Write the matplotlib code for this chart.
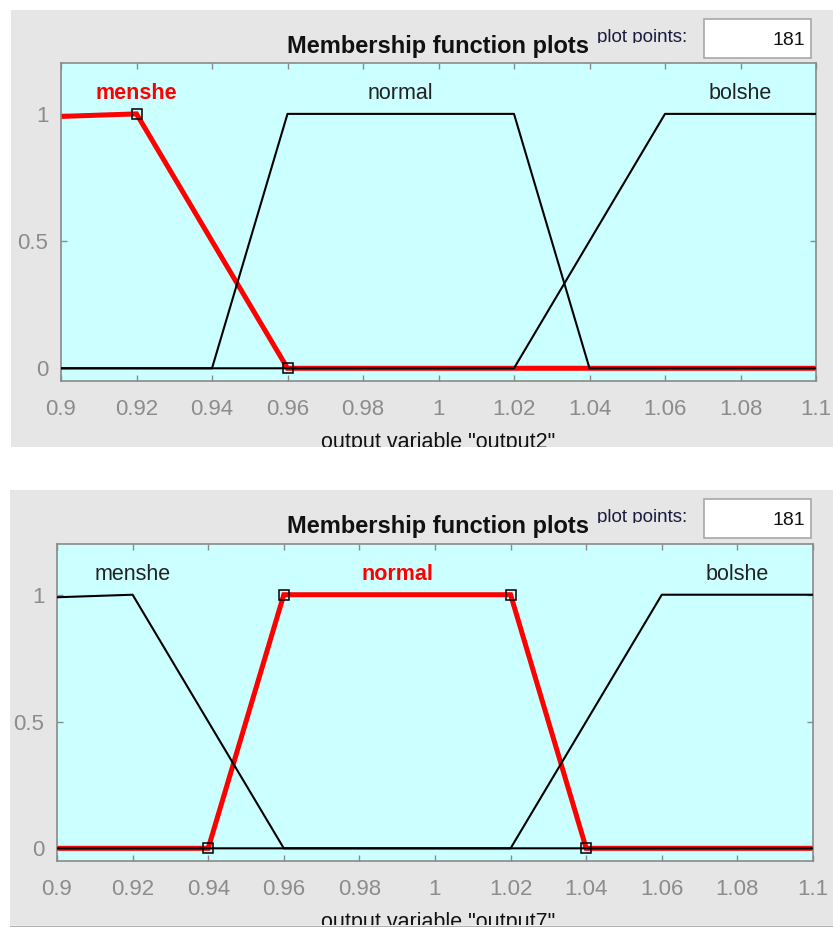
import matplotlib
matplotlib.use("Agg")
import matplotlib.pyplot as plt
from matplotlib.patches import Rectangle
from matplotlib.transforms import Bbox

plt.rcParams['font.family'] = ['Liberation Sans', 'DejaVu Sans']

# Membership functions of the output variables
mf_names = ['menshe', 'normal', 'bolshe']
menshe_x = [0.9, 0.92, 0.96, 1.1]
menshe_y = [0.99, 1.0, 0.0, 0.0]
normal_x = [0.9, 0.94, 0.96, 1.02, 1.04, 1.1]
normal_y = [0.0, 0.0, 1.0, 1.0, 0.0, 0.0]
bolshe_x = [0.9, 1.02, 1.06, 1.1]
bolshe_y = [0.0, 0.0, 1.0, 1.0]
label_x = [0.92, 0.99, 1.08]

# Parameter points of each function (shown on the selected one)
menshe_params_x = [0.92, 0.96]
menshe_params_y = [1.0, 0.0]
normal_params_x = [0.94, 0.96, 1.02, 1.04]
normal_params_y = [0.0, 1.0, 1.0, 0.0]

x_ticks = [0.9, 0.92, 0.94, 0.96, 0.98, 1.0, 1.02, 1.04, 1.06, 1.08, 1.1]
x_tick_labels = ['0.9', '0.92', '0.94', '0.96', '0.98', '1', '1.02', '1.04', '1.06', '1.08', '1.1']
y_ticks = [0, 0.5, 1]
y_tick_labels = ['0', '0.5', '1']

variables = ['output2', 'output7']
selected = [0, 1]
plot_points = 181

W, H = 833, 927
fig = plt.figure(figsize=(W / 100, H / 100), dpi=100, facecolor='white')

PANEL = '#e6e6e6'
CYAN = '#ccffff'
TICKGRAY = '#8c8c8c'


def fx(px):
    return px / W


def fy(py):
    return 1 - py / H


def clip_rows(artist, y_top, y_bottom):
    artist.set_clip_box(Bbox.from_extents(0, H - y_bottom, W, H - y_top))
    artist.set_clip_on(True)


def panel(top, bottom, left, ax_box, var_name, sel):
    # grey background of the editor panel
    bg = Rectangle((fx(left), fy(bottom)), fx(W - left), fy(top) - fy(bottom),
                   transform=fig.transFigure, facecolor=PANEL, edgecolor='none', zorder=-5)
    fig.patches.append(bg)

    l, t, r, b = ax_box
    ax = fig.add_axes([fx(l), fy(b), fx(r - l), fy(t) - fy(b)])
    ax.set_facecolor(CYAN)
    ax.set_xlim(0.9, 1.1)
    ax.set_ylim(-0.05, 1.2)
    for s in ax.spines.values():
        s.set_color('#8a8a8a')
        s.set_linewidth(1.2)
    ax.set_xticks(x_ticks)
    ax.set_xticklabels(x_tick_labels)
    ax.set_yticks(y_ticks)
    ax.set_yticklabels(y_tick_labels)
    ax.tick_params(direction='in', length=4, width=1, color='#8a8a8a',
                   labelcolor=TICKGRAY, labelsize=16, top=True, right=True)
    ax.tick_params(axis='x', pad=13)
    ax.tick_params(axis='y', pad=9)

    curves = [(menshe_x, menshe_y), (normal_x, normal_y), (bolshe_x, bolshe_y)]
    params = [(menshe_params_x, menshe_params_y), (normal_params_x, normal_params_y)]
    for i, (xs, ys) in enumerate(curves):
        if i == sel:
            ax.plot(xs, ys, color='red', lw=3.6, zorder=2, solid_joinstyle='miter')
        else:
            ax.plot(xs, ys, color='black', lw=1.5, zorder=3)
        ax.text(label_x[i], 1.06, mf_names[i], ha='center', va='baseline',
                fontsize=15.5, color='red' if i == sel else '#222222',
                fontweight='bold' if i == sel else 'normal')
    px, py = params[sel]
    ax.plot(px, py, linestyle='none', marker='s', markersize=7,
            markerfacecolor='none', markeredgecolor='black', markeredgewidth=1.1, zorder=4)

    # title and plot points box
    cx = 438
    fig.text(fx(cx), fy(top + 43), 'Membership function plots', ha='center', va='baseline',
             fontsize=17, fontweight='bold', color='#111111')
    pp = fig.text(fx(597), fy(top + 32), 'plot points:', ha='left', va='baseline',
                  fontsize=13.5, color='#1a1a40')
    clip_rows(pp, top, top + 32.5)
    box = Rectangle((fx(704), fy(top + 48)), fx(107), fy(top + 9) - fy(top + 48),
                    transform=fig.transFigure, facecolor='white', edgecolor='#a8a8a8',
                    linewidth=1.2, zorder=1)
    fig.patches.append(box)
    fig.text(fx(805), fy(top + 35), str(plot_points), ha='right', va='baseline',
             fontsize=14, color='#111111')

    # axis label, cut at the panel edge
    lab = fig.text(fx(cx), fy(top + 438), 'output variable "%s"' % var_name,
                   ha='center', va='baseline', fontsize=15.5, color='#111111')
    clip_rows(lab, top, bottom)
    return ax


panel(10, 447, 11, (61, 63, 816, 381), variables[0], selected[0])
panel(490, 925, 10, (57, 544, 813, 861), variables[1], selected[1])

fig.add_artist(plt.Line2D([fx(10), 1], [fy(925.5), fy(925.5)], transform=fig.transFigure,
                          color='#b0b0b0', lw=1))

fig.savefig('out.png', dpi=100, facecolor='white')
